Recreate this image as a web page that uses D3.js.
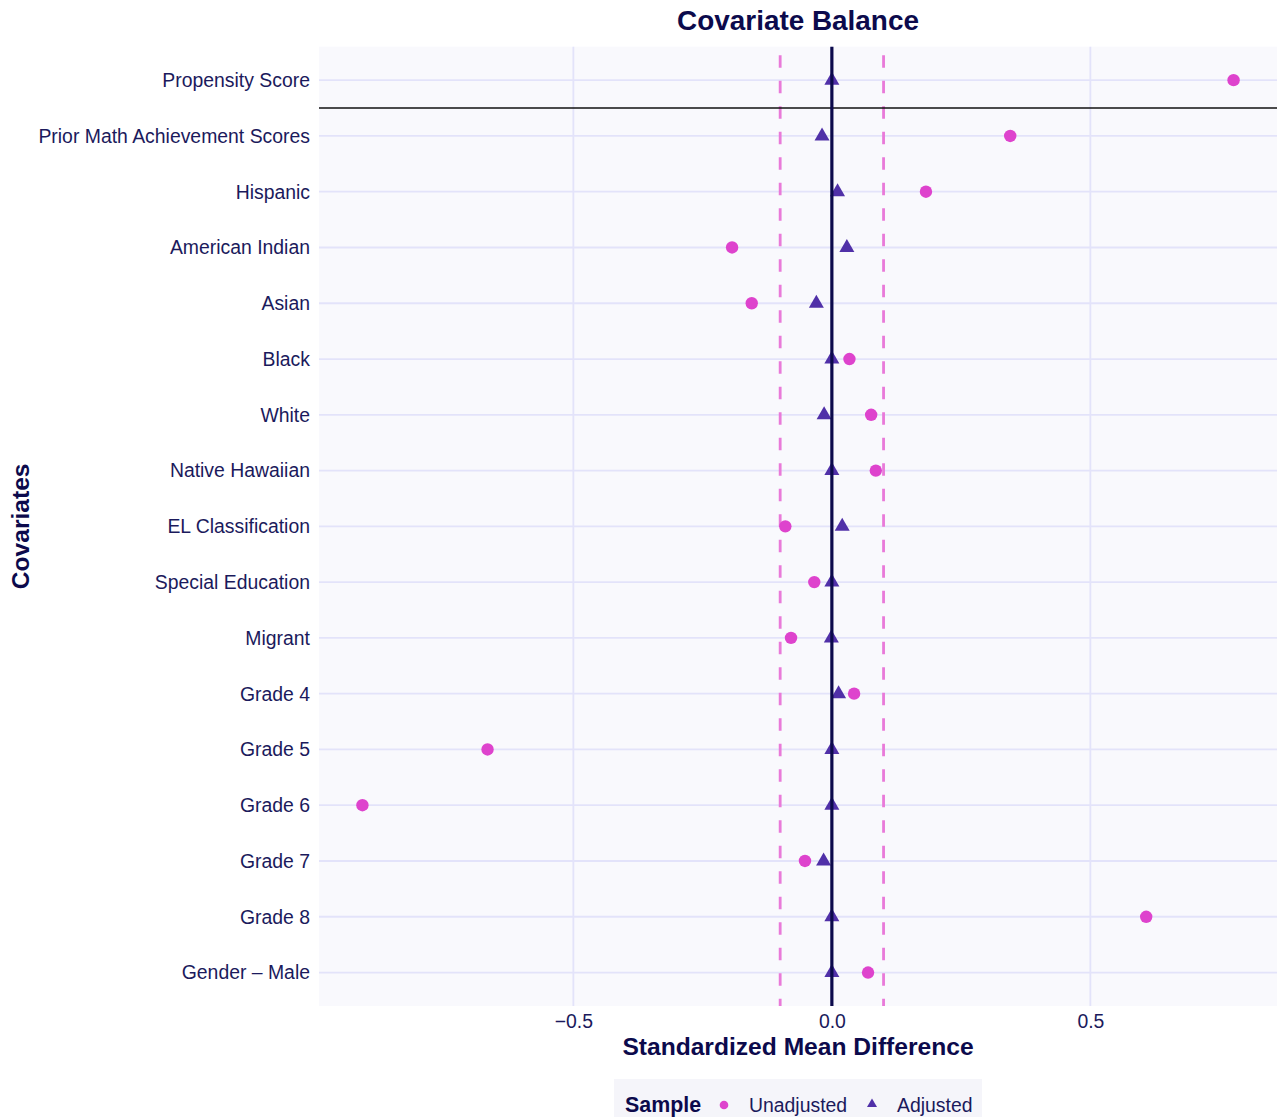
<!DOCTYPE html>
<html>
<head>
<meta charset="utf-8">
<script src="https://cdn.jsdelivr.net/npm/d3@7"></script>
<style>
  html, body { margin: 0; padding: 0; background: #ffffff; }
  svg { display: block; font-family: "Liberation Sans", Arial, Helvetica, sans-serif; }
</style>
</head>
<body>
<svg id="chart" width="1279" height="1117"></svg>
<script>
// Covariates, top to bottom
const covariates = [
  "Propensity Score",
  "Prior Math Achievement Scores",
  "Hispanic",
  "American Indian",
  "Asian",
  "Black",
  "White",
  "Native Hawaiian",
  "EL Classification",
  "Special Education",
  "Migrant",
  "Grade 4",
  "Grade 5",
  "Grade 6",
  "Grade 7",
  "Grade 8",
  "Gender \u2013 Male"
];

// Standardized mean differences before matching
const unadjusted = [0.777, 0.345, 0.182, -0.193, -0.155, 0.034, 0.076, 0.085, -0.090, -0.034,
                    -0.079, 0.043, -0.666, -0.908, -0.052, 0.608, 0.070];

// Standardized mean differences after matching
const adjusted = [0.000, -0.019, 0.011, 0.029, -0.030, 0.000, -0.015, 0.000, 0.020, 0.000,
                  -0.001, 0.013, 0.000, 0.000, -0.016, 0.000, 0.000];

const xTicks = [-0.5, 0, 0.5];
const xTickLabels = ["\u22120.5", "0.0", "0.5"];
const threshold = 0.1;
const xDomain = [-0.992, 0.861];

const margin = { left: 319, right: 1277, top: 46.7, bottom: 1006 };
const svg = d3.select("#chart");

const navy = "#0c0a4c";
const tickColor = "#1b1a5c";
const dotColor = "#de43cd";
const triColor = "#5030a8";
const gridColor = "#e3e3fa";
const tickSize = 19.4;

const x = d3.scaleLinear().domain(xDomain).range([margin.left, margin.right]);
const y = d3.scalePoint().domain(covariates).range([margin.top, margin.bottom]).padding(0.6);

// plot background
svg.append("rect")
  .attr("x", margin.left).attr("y", margin.top)
  .attr("width", margin.right - margin.left).attr("height", margin.bottom - margin.top)
  .attr("fill", "#f9f9fd");

// horizontal gridlines
svg.append("g").selectAll("line").data(covariates).join("line")
  .attr("x1", margin.left).attr("x2", margin.right)
  .attr("y1", d => y(d)).attr("y2", d => y(d))
  .attr("stroke", gridColor).attr("stroke-width", 1.8);

// vertical gridlines
svg.append("g").selectAll("line").data(xTicks).join("line")
  .attr("x1", d => x(d)).attr("x2", d => x(d))
  .attr("y1", margin.top).attr("y2", margin.bottom)
  .attr("stroke", gridColor).attr("stroke-width", 1.8);

// balance thresholds
svg.append("g").selectAll("line").data([-threshold, threshold]).join("line")
  .attr("x1", d => x(d)).attr("x2", d => x(d))
  .attr("y1", margin.top).attr("y2", margin.bottom)
  .attr("stroke", "#e97ad9").attr("stroke-width", 2.8)
  .attr("stroke-dasharray", "12.5,13").attr("stroke-dashoffset", 17);

// separator below the propensity score row
const sepY = (y(covariates[0]) + y(covariates[1])) / 2;
svg.append("line")
  .attr("x1", margin.left).attr("x2", margin.right)
  .attr("y1", sepY).attr("y2", sepY)
  .attr("stroke", "#111111").attr("stroke-width", 1.6);

// unadjusted markers
svg.append("g").selectAll("circle").data(covariates).join("circle")
  .attr("cx", (d, i) => x(unadjusted[i]))
  .attr("cy", d => y(d))
  .attr("r", 6.2)
  .attr("fill", dotColor);

// adjusted markers
const tri = "M-7.5,4.5H7.5L0,-8.5Z";
svg.append("g").selectAll("path").data(covariates).join("path")
  .attr("d", tri)
  .attr("transform", (d, i) => `translate(${x(adjusted[i])},${y(d)})`)
  .attr("fill", triColor);

// zero reference line
svg.append("line")
  .attr("x1", x(0)).attr("x2", x(0))
  .attr("y1", margin.top).attr("y2", margin.bottom)
  .attr("stroke", navy).attr("stroke-width", 3.2);

// y axis labels
const yAxis = d3.axisLeft(y).tickSize(0).tickPadding(9);
const yg = svg.append("g").attr("transform", `translate(${margin.left},0)`).call(yAxis);
yg.select(".domain").remove();
yg.selectAll("text")
  .attr("font-size", tickSize).attr("fill", tickColor)
  .attr("font-family", "'Liberation Sans', Arial, sans-serif")
  .attr("dy", "0.33em");

// x axis labels
const xAxis = d3.axisBottom(x).tickValues(xTicks).tickSize(0)
  .tickFormat((d, i) => xTickLabels[i]);
const xg = svg.append("g").attr("transform", `translate(0,${margin.bottom})`).call(xAxis);
xg.select(".domain").remove();
xg.selectAll("text")
  .attr("font-size", tickSize).attr("fill", tickColor)
  .attr("font-family", "'Liberation Sans', Arial, sans-serif")
  .attr("y", 22).attr("dy", 0);

const midX = (margin.left + margin.right) / 2;
const midY = (margin.top + margin.bottom) / 2;

// title
svg.append("text")
  .attr("x", midX).attr("y", 30)
  .attr("text-anchor", "middle")
  .attr("font-size", 27.9).attr("font-weight", "bold").attr("fill", navy)
  .text("Covariate Balance");

// axis titles
svg.append("text")
  .attr("x", midX).attr("y", 1055)
  .attr("text-anchor", "middle")
  .attr("font-size", 24.6).attr("font-weight", "bold").attr("fill", navy)
  .text("Standardized Mean Difference");

svg.append("text")
  .attr("transform", `translate(28.5,${midY}) rotate(-90)`)
  .attr("text-anchor", "middle")
  .attr("font-size", 24.6).attr("font-weight", "bold").attr("fill", navy)
  .text("Covariates");

// legend
const lg = svg.append("g");
lg.append("rect")
  .attr("x", 614).attr("y", 1079).attr("width", 368).attr("height", 60)
  .attr("fill", "#f5f5fa");
lg.append("text")
  .attr("x", 625).attr("y", 1112)
  .attr("font-size", 21.4).attr("font-weight", "bold").attr("fill", navy)
  .text("Sample");
lg.append("circle").attr("cx", 724).attr("cy", 1105).attr("r", 4.3).attr("fill", dotColor);
lg.append("text").attr("x", 749).attr("y", 1112)
  .attr("font-size", tickSize).attr("fill", tickColor).text("Unadjusted");
lg.append("path").attr("d", "M-5,3H5L0,-5.5Z")
  .attr("transform", "translate(872,1104)").attr("fill", triColor);
lg.append("text").attr("x", 897).attr("y", 1112)
  .attr("font-size", tickSize).attr("fill", tickColor).text("Adjusted");
</script>
</body>
</html>
